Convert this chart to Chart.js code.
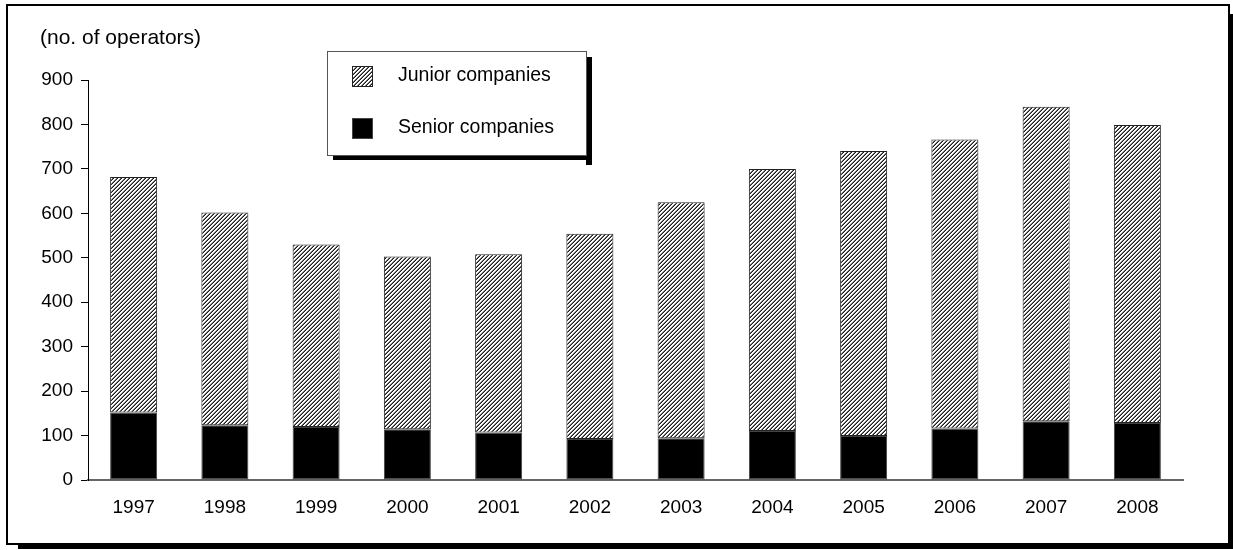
<!DOCTYPE html>
<html>
<head>
<meta charset="utf-8">
<script src="https://cdn.jsdelivr.net/npm/chart.js@4"></script>
<style>
  html, body { margin: 0; padding: 0; background: #fff; }
  #wrap { position: relative; width: 1233px; height: 550px; }
</style>
</head>
<body>
<div id="wrap"><canvas id="grafico" width="1233" height="550"></canvas></div>
<script>
// años y numero de operadores por tipo de empresa
var anios = ["1997", "1998", "1999", "2000", "2001", "2002", "2003", "2004", "2005", "2006", "2007", "2008"];
var senior = [152, 123, 119, 114, 107, 92, 94, 110, 99, 116, 132, 128];
var junior = [530, 479, 411, 389, 401, 462, 531, 590, 641, 650, 708, 671];
var etiquetaEje = "(no. of operators)";
var marcasY = [0, 100, 200, 300, 400, 500, 600, 700, 800, 900];

var fuente = "'Liberation Sans', Arial, sans-serif";

// patron de rayas diagonales para las empresas junior
function crearRayado() {
  var c = document.createElement('canvas');
  c.width = 4; c.height = 4;
  var g = c.getContext('2d');
  g.fillStyle = '#fff';
  g.fillRect(0, 0, 4, 4);
  for (var x = 0; x < 4; x++) {
    for (var y = 0; y < 4; y++) {
      var k = (x + y) % 4;
      if (k == 3) { g.fillStyle = '#1a1a1a'; g.fillRect(x, y, 1, 1); }
      else if (k == 2) { g.fillStyle = '#777'; g.fillRect(x, y, 1, 1); }
    }
  }
  return g.createPattern(c, 'repeat');
}
var rayado = crearRayado();

// marco exterior con sombra, titulo del eje y leyenda en caja
var decoracion = {
  id: 'decoracion',
  beforeDraw: function (chart) {
    var ctx = chart.ctx;
    ctx.save();
    ctx.fillStyle = '#fff';
    ctx.fillRect(0, 0, chart.width, chart.height);
    // sombra del marco
    ctx.fillStyle = '#000';
    ctx.fillRect(18, 544, 1215, 5);
    ctx.fillRect(1229, 14, 4, 535);
    ctx.strokeStyle = '#000';
    ctx.lineWidth = 2;
    ctx.strokeRect(7, 5, 1222, 539);
    ctx.restore();
  },
  afterDraw: function (chart) {
    var ctx = chart.ctx;
    ctx.save();
    ctx.fillStyle = '#000';
    ctx.font = '21px ' + fuente;
    ctx.textBaseline = 'middle';
    ctx.textAlign = 'left';
    ctx.fillText(etiquetaEje, 40, 38);

    // caja de la leyenda
    var bx = 327, by = 51, bw = 259, bh = 104;
    ctx.fillStyle = '#000';
    ctx.fillRect(bx + 6, by + bh, bw, 5);
    ctx.fillRect(bx + bw, by + 6, 6, bh + 4);
    ctx.fillStyle = '#fff';
    ctx.fillRect(bx, by, bw, bh);
    ctx.strokeStyle = '#555';
    ctx.lineWidth = 1;
    ctx.strokeRect(bx + 0.5, by + 0.5, bw, bh);

    ctx.font = '19.5px ' + fuente;
    var ds = chart.data.datasets.slice().reverse();
    var filas = [76, 128];
    ds.forEach(function (d, i) {
      var cy = filas[i];
      ctx.fillStyle = d.backgroundColor;
      ctx.fillRect(352, cy - 10, 21, 21);
      ctx.strokeStyle = d.borderColor;
      ctx.strokeRect(352.5, cy - 9.5, 20, 20);
      ctx.fillStyle = '#000';
      ctx.fillText(d.label, 398, cy);
    });
    ctx.restore();
  }
};

var canvas = document.getElementById('grafico');
var ctx = canvas.getContext('2d');

var data = {
  labels: anios,
  datasets: [
    {
      label: "Senior companies",
      data: senior,
      backgroundColor: '#000',
      borderColor: '#444',
      borderWidth: 1,
      borderSkipped: false
    },
    {
      label: "Junior companies",
      data: junior,
      backgroundColor: rayado,
      borderColor: '#222',
      borderWidth: 1,
      borderSkipped: false
    }
  ]
};

var options = {
  responsive: false,
  animation: false,
  devicePixelRatio: 1,
  layout: { padding: { left: 0, right: 50, top: 80, bottom: 0 } },
  datasets: { bar: { categoryPercentage: 1, barPercentage: 0.515 } },
  plugins: { legend: { display: false }, tooltip: { enabled: false } },
  scales: {
    x: {
      stacked: true,
      grid: { display: false, drawTicks: false },
      border: { display: true, color: '#666', width: 2 },
      ticks: { color: '#000', font: { size: 19, family: fuente }, padding: 16, maxRotation: 0 },
      afterFit: function (s) { s.height = 70; }
    },
    y: {
      stacked: true,
      min: 0,
      max: 900,
      grid: { drawOnChartArea: false, tickLength: 7, tickColor: '#000', tickWidth: 1 },
      border: { display: true, color: '#000', width: 1 },
      afterBuildTicks: function (s) { s.ticks = marcasY.map(function (v) { return { value: v }; }); },
      ticks: { color: '#000', font: { size: 19, family: fuente }, padding: 8 },
      afterFit: function (s) { s.width = 88; }
    }
  }
};

var grafico = new Chart(ctx, {
  type: 'bar',
  data: data,
  options: options,
  plugins: [decoracion]
});
</script>
</body>
</html>
